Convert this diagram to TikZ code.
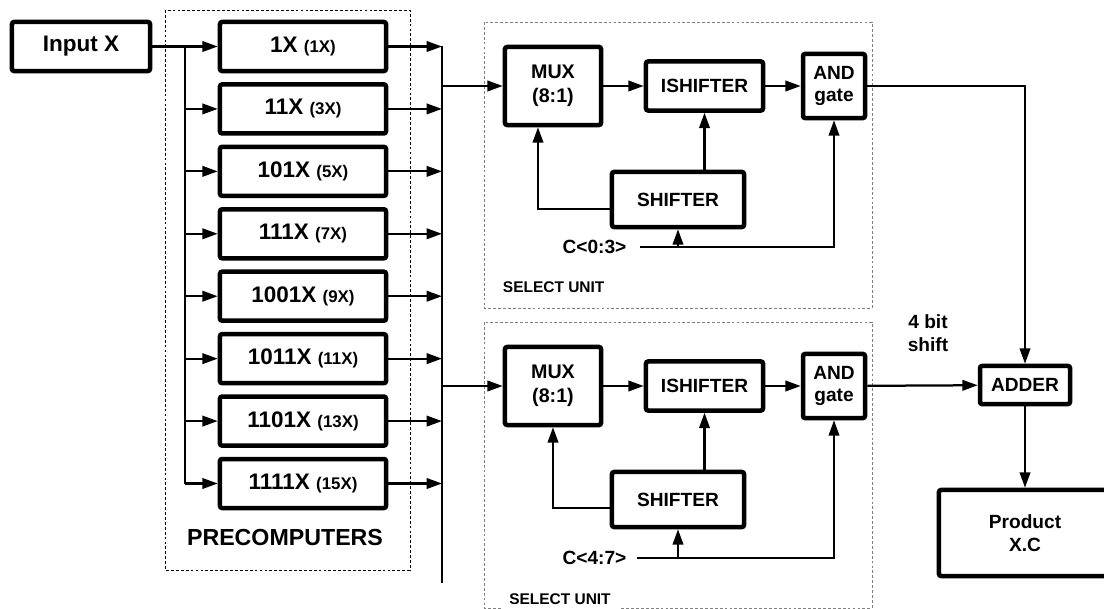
\documentclass[tikz,border=0pt]{standalone}
\usepackage{fontspec}
\setmainfont{Liberation Sans}
\usetikzlibrary{arrows.meta, positioning, calc}

\begin{document}
\begin{tikzpicture}[x=0.025cm, y=-0.025cm, >={Triangle[length=11pt, width=7.5pt]},
  every node/.style={font=\bfseries},
  blk/.style={draw, line width=3.2pt, rounded corners=1.5pt, align=center, inner sep=0pt},
  wire/.style={line width=1.6pt},
  big/.style={font=\bfseries\fontsize{16}{19}\selectfont},
  muxf/.style={font=\bfseries\fontsize{14}{17}\selectfont},
  mid/.style={font=\bfseries\fontsize{13.6}{16}\selectfont, align=center},
  small/.style={font=\bfseries\fontsize{11}{13}\selectfont},
  frame/.style={dash pattern=on 2pt off 1.5pt, line width=0.6pt}]
\useasboundingbox (0,0) rectangle (1104,609);
% dashed frames
\draw[frame] (165,10) rectangle (410,570);
\draw[frame, gray] (484,22) rectangle (872,308);
\draw[frame, gray] (484,322) rectangle (872,608);
% input and precomputers
\node[blk, big, minimum width=3.45cm, minimum height=1.225cm] (inx) at (81,46.5) {Input X};
\foreach \i/\b/\m in {1/1X/1X, 2/11X/3X, 3/101X/5X, 4/111X/7X, 5/1001X/9X, 6/1011X/11X, 7/1101X/13X, 8/1111X/15X}
  \node[blk, big, minimum width=4.15cm, minimum height=1.225cm] (pc\i) at (303,{46.5+62.43*(\i-1)}) {\b\ {\fontsize{12}{14}\selectfont(\m)}};
\node[font=\bfseries\fontsize{16.5}{19}\selectfont] (pcname) at (285,538) {PRECOMPUTERS};
\coordinate (split) at (185,46.5);
\draw[wire,->] (inx.east) -- (pc1.west);
\draw[wire] (split) -- (split |- pc8);
\foreach \i in {2,...,8} \draw[wire,->] (split |- pc\i) -- (pc\i.west);
% bus
\coordinate (bustop) at (442,46.5);
\coordinate (busbot) at (442,583);
\draw[wire] (bustop) -- (busbot);
\foreach \i in {1,...,8} \draw[wire,->] (pc\i.east) -- (bustop |- pc\i);
% select unit 1
\node[blk, muxf, minimum width=2.4cm, minimum height=1.95cm] (mux1) at (553,86) {MUX\\(8:1)};
\node[blk, mid, minimum width=2.925cm, minimum height=1.225cm] (ish1) at (704.5,86) {ISHIFTER};
\node[blk, mid, minimum width=1.55cm, minimum height=1.6cm] (and1) at (834,86) {AND\\gate};
\node[blk, mid, minimum width=3.3cm, minimum height=1.375cm] (sh1) at (678,199.5) {SHIFTER};
\node[mid] (c1) at (594.5,247) {C<0:3>};
\node[small, anchor=west] (su1) at (498,287) {SELECT UNIT};
\coordinate (c1s) at (640,247);
\draw[wire,->] (bustop |- mux1) -- (mux1.west);
\draw[wire,->] (mux1) -- (ish1);
\draw[wire,->] (ish1) -- (and1);
\draw[wire,->] (ish1.south |- sh1.north) -- (ish1.south);
\draw[wire,->] ($(sh1.west)+(0,9.5)$) -| ($(mux1.south)+(-15,0)$);
\draw[wire,->] (c1s) -| (and1.south);
\draw[wire,->] (sh1.south |- c1s) -- (sh1.south);
% select unit 2
\node[blk, muxf, minimum width=2.4cm, minimum height=1.95cm] (mux2) at (553,386) {MUX\\(8:1)};
\node[blk, mid, minimum width=2.925cm, minimum height=1.225cm] (ish2) at (704.5,386) {ISHIFTER};
\node[blk, mid, minimum width=1.55cm, minimum height=1.6cm] (and2) at (834,386) {AND\\gate};
\node[blk, mid, minimum width=3.3cm, minimum height=1.375cm] (sh2) at (678,499.5) {SHIFTER};
\node[mid] (c2) at (594.5,558) {C<4:7>};
\node[small, fill=white, inner xsep=6pt, inner ysep=4pt] (su2) at (560,599) {SELECT UNIT};
\coordinate (c2s) at (637,558);
\draw[wire,->] (bustop |- mux2) -- (mux2.west);
\draw[wire,->] (mux2) -- (ish2);
\draw[wire,->] (ish2) -- (and2);
\draw[wire,->] (ish2.south |- sh2.north) -- (ish2.south);
\draw[wire,->] ($(sh2.west)+(0,8.5)$) -| (mux2.south);
\draw[wire,->] (c2s) -| (and2.south);
\draw[wire,->] (sh2.south |- c2s) -- (sh2.south);
% adder and product
\node[mid] (shiftlbl) at (928,333) {4 bit\\shift};
\node[blk, mid, minimum width=2.25cm, minimum height=0.95cm] (adder) at (1025,385) {ADDER};
\node[blk, mid, minimum width=4.3cm, minimum height=2.15cm] (prod) at (1025,533) {Product\\X.C};
\draw[wire,->] (and1) -| (adder);
\draw[wire,->] (and2) -- (adder);
\draw[wire,->] (adder) -- (prod);
\end{tikzpicture}
\end{document}
